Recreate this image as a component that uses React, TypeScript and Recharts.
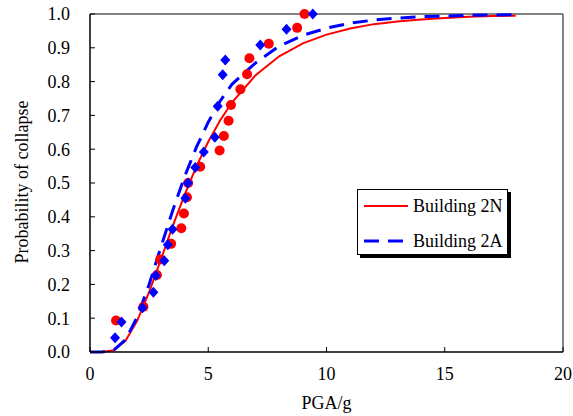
import React from "react";
import {
  ComposedChart,
  Line,
  Scatter,
  XAxis,
  YAxis,
  ReferenceLine,
  Legend,
} from "recharts";

// Fragility curves (fitted) and the observed collapse fractions for the two buildings.

const curvePGA = [0, 0.5, 1, 1.5, 2, 2.5, 3, 3.5, 4, 4.5, 5, 5.5, 6, 7, 8, 9, 10, 11, 12, 13, 14, 15, 16, 17, 18];
const fit2N = [0, 0, 0.005, 0.033, 0.093, 0.177, 0.274, 0.373, 0.465, 0.549, 0.622, 0.685, 0.738, 0.819, 0.875, 0.913, 0.939, 0.957, 0.97, 0.978, 0.984, 0.988, 0.992, 0.994, 0.995];
const fit2A = [0, 0, 0.005, 0.036, 0.104, 0.2, 0.311, 0.419, 0.519, 0.606, 0.68, 0.742, 0.792, 0.855, 0.905, 0.937, 0.958, 0.973, 0.982, 0.988, 0.992, 0.994, 0.996, 0.997, 0.998];

const pga2N = [1.1, 2.26, 2.83, 2.97, 3.43, 3.86, 3.97, 4.1, 4.15, 4.66, 5.48, 5.66, 5.86, 5.96, 6.36, 6.64, 6.74, 7.56, 8.76, 9.07];
const prob2N = [0.093, 0.134, 0.228, 0.274, 0.32, 0.366, 0.41, 0.458, 0.5, 0.548, 0.596, 0.639, 0.684, 0.731, 0.777, 0.822, 0.869, 0.912, 0.959, 1.0];

const pga2A = [1.06, 1.33, 2.22, 2.68, 2.78, 3.14, 3.29, 3.49, 4.03, 4.14, 4.45, 4.81, 5.28, 5.4, 5.61, 5.72, 7.2, 8.31, 9.42];
const prob2A = [0.042, 0.089, 0.131, 0.177, 0.226, 0.27, 0.317, 0.363, 0.455, 0.5, 0.546, 0.592, 0.635, 0.727, 0.82, 0.864, 0.908, 0.955, 1.0];

const xTicks = [0, 5, 10, 15, 20];
const yTicks = [0, 0.1, 0.2, 0.3, 0.4, 0.5, 0.6, 0.7, 0.8, 0.9, 1.0];

const seriesNames = ["Building 2N", "Building 2A"];

const FONT = "'Liberation Serif', 'Times New Roman', serif";
const RED = "#ff0000";
const BLUE = "#0000ff";

const curve2N = curvePGA.map((x, i) => ({ x, y: fit2N[i] }));
const curve2A = curvePGA.map((x, i) => ({ x, y: fit2A[i] }));
const points2N = pga2N.map((x, i) => ({ x, y: prob2N[i] }));
const points2A = pga2A.map((x, i) => ({ x, y: prob2A[i] }));

const Dot = (p: any) => <circle cx={p.cx} cy={p.cy} r={5} fill={RED} />;
const Diamond = (p: any) => (
  <path
    d={`M${p.cx},${p.cy - 5.5}L${p.cx + 5},${p.cy}L${p.cx},${p.cy + 5.5}L${p.cx - 5},${p.cy}Z`}
    fill={BLUE}
  />
);

function LegendBox() {
  return (
    <div
      style={{
        width: 151,
        height: 66,
        boxSizing: "border-box",
        border: "1px solid #000",
        background: "#fff",
        boxShadow: "3px 3px 0 #000",
      }}
    >
      <svg width={149} height={64} style={{ display: "block" }}>
        <line x1={6} y1={16} x2={50} y2={16} stroke={RED} strokeWidth={2} />
        <text x={55} y={22} style={{ fontFamily: FONT, fontSize: 18 }} fill="#000">
          {seriesNames[0]}
        </text>
        <line x1={6} y1={51} x2={50} y2={51} stroke={BLUE} strokeWidth={3} strokeDasharray="15 9" />
        <text x={55} y={57} style={{ fontFamily: FONT, fontSize: 18 }} fill="#000">
          {seriesNames[1]}
        </text>
      </svg>
    </div>
  );
}

export default function App() {
  const tickStyle = { fill: "#000", fontSize: 18, fontFamily: FONT, style: { fontFamily: FONT } };
  return (
    <div style={{ position: "absolute", left: 0, top: 0, width: 573, height: 416, background: "#fff", fontFamily: FONT }}>
      <ComposedChart width={573} height={416} margin={{ top: 14, right: 10, left: 0, bottom: 0 }}>
        <XAxis
          type="number"
          dataKey="x"
          domain={[0, 20]}
          ticks={xTicks}
          height={64}
          axisLine={{ stroke: "#000", strokeWidth: 1.5 }}
          tickLine={{ stroke: "#000" }}
          tickSize={-5}
          tickMargin={20}
          tick={tickStyle}
          label={{
            content: (props: any) => {
              const vb = props.viewBox || { x: 90, width: 473 };
              return (
                <text x={vb.x + vb.width / 2} y={409} textAnchor="middle" style={{ fontFamily: FONT, fontSize: 18 }} fill="#000">
                  PGA/g
                </text>
              );
            },
          }}
        />
        <YAxis
          type="number"
          dataKey="y"
          domain={[0, 1]}
          ticks={yTicks}
          width={90}
          axisLine={{ stroke: "#000", strokeWidth: 1.5 }}
          tickLine={{ stroke: "#000" }}
          tickSize={-5}
          tickMargin={25}
          tick={tickStyle}
          tickFormatter={(v: number) => v.toFixed(1)}
          label={{
            content: () => (
              <text
                transform="translate(28,182) rotate(-90)"
                textAnchor="middle"
                style={{ fontFamily: FONT, fontSize: 18 }}
                fill="#000"
              >
                Probability of collapse
              </text>
            ),
          }}
        />
        <ReferenceLine y={1} stroke="#5a5a5a" strokeWidth={1.5} />
        <ReferenceLine x={20} stroke="#5a5a5a" strokeWidth={1.5} />
        <Scatter name="2N data" data={points2N} shape={Dot} isAnimationActive={false} />
        <Scatter name="2A data" data={points2A} shape={Diamond} isAnimationActive={false} />
        <Line
          data={curve2N}
          dataKey="y"
          type="linear"
          stroke={RED}
          strokeWidth={2}
          dot={false}
          activeDot={false}
          isAnimationActive={false}
        />
        <Line
          data={curve2A}
          dataKey="y"
          type="linear"
          stroke={BLUE}
          strokeWidth={3}
          strokeDasharray="15 9"
          dot={false}
          activeDot={false}
          isAnimationActive={false}
        />
        <Legend
          layout="horizontal"
          verticalAlign="middle"
          align="center"
          content={() => <LegendBox />}
          wrapperStyle={{ position: "absolute", left: 357, top: 189, width: 155, height: 70 }}
        />
      </ComposedChart>
    </div>
  );
}
